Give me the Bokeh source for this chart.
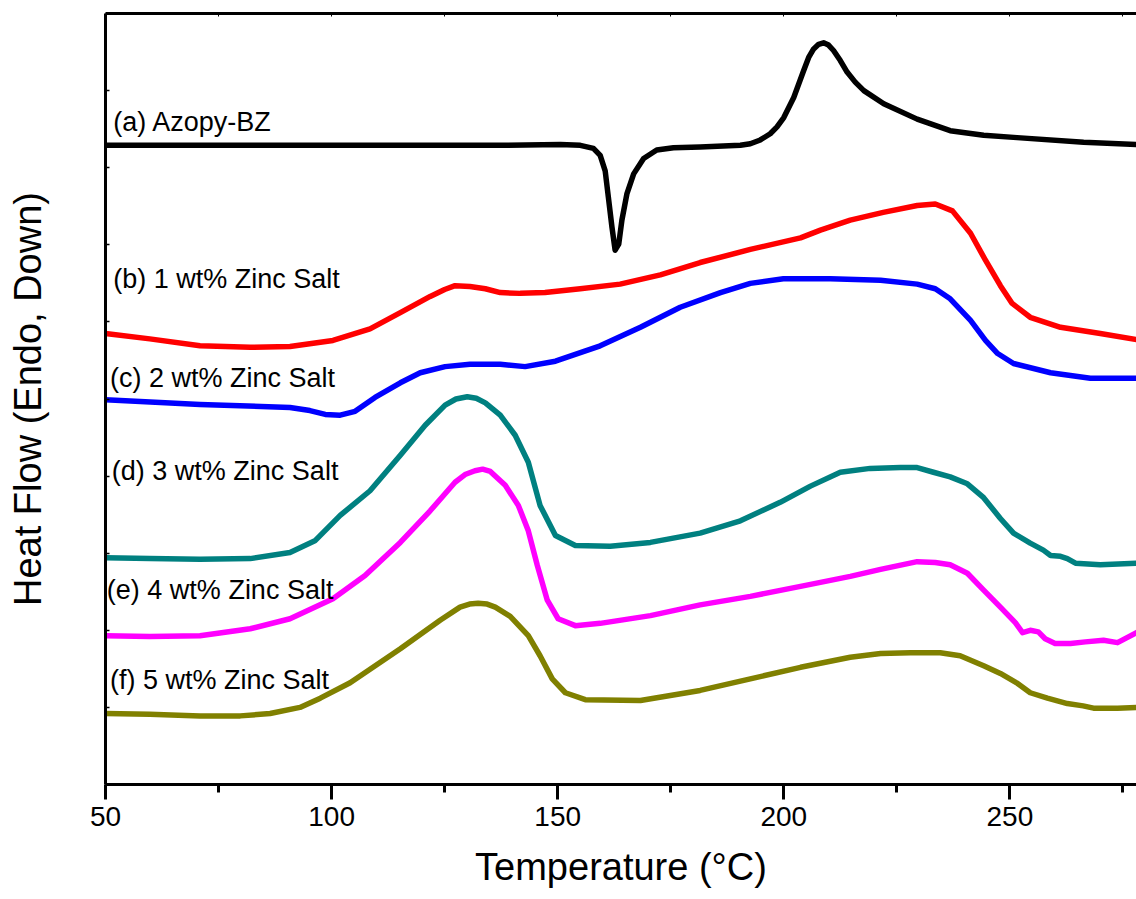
from bokeh.plotting import figure
from bokeh.models import Range1d, FixedTicker, LinearAxis, Label, CustomJSTickFormatter
from bokeh.embed import file_html
from bokeh.resources import INLINE

# ---- data (Temperature in degC, heat flow in arbitrary stacked units) ----
temp_a = [50, 93, 137.3, 150.6, 155.0, 157.9, 159.4, 160.5, 161.2, 162.0, 162.7, 163.5, 164.2,
          165.3, 166.8, 169.0, 171.9, 175.6, 181.5, 190.4, 192.6, 194.8, 197.0, 198.5, 200.0,
          202.2, 204.4, 205.5, 206.6, 207.7, 208.8, 209.9, 211.0, 212.5, 214.0, 215.8, 217.7,
          222.1, 229.5, 236.8, 244.2, 251.6, 266.3, 278.0]
flow_a = [82.9, 82.9, 82.9, 83.0, 82.9, 82.5, 81.6, 79.6, 76.2, 72.3, 69.3, 70.1, 73.2,
          76.6, 79.2, 81.2, 82.3, 82.6, 82.7, 82.9, 83.1, 83.6, 84.4, 85.3, 86.5,
          89.1, 92.6, 94.3, 95.4, 96.0, 96.2, 95.9, 95.2, 93.9, 92.4, 91.1, 90.0,
          88.3, 86.3, 84.8, 84.2, 83.9, 83.3, 83.0]

temp_b = [50, 59.8, 70.9, 82, 90.8, 100.3, 108.5, 115.2, 121.8, 125.0, 127.3, 130.6, 134, 137.3,
          141.7, 147.2, 155, 163.8, 172.7, 181.5, 192.6, 203.7, 208.1, 214.7, 222, 229.5,
          233.5, 237.3, 241.3, 244.6, 247.9, 250.5, 254.5, 261.2, 270, 278]
flow_b = [58.5, 57.8, 56.9, 56.7, 56.8, 57.6, 59.1, 61.2, 63.3, 64.2, 64.7, 64.6, 64.3, 63.8,
          63.7, 63.8, 64.3, 64.9, 66.1, 67.7, 69.4, 70.9, 71.9, 73.2, 74.2, 75.1,
          75.3, 74.4, 71.5, 68.0, 64.7, 62.4, 60.6, 59.3, 58.5, 57.7]

temp_c = [50, 70.9, 90.8, 95.2, 98.6, 101.9, 105.2, 109.6, 115.2, 119.6, 125.1, 130.6, 137.3,
          142.8, 149.5, 159.4, 168.3, 177.1, 186, 192.6, 199.9, 210.3, 221.4, 229.5, 233.5,
          236.8, 241.3, 244.6, 247.3, 250.8, 259, 267.8, 278]
flow_c = [49.9, 49.3, 48.9, 48.5, 48.0, 47.9, 48.4, 50.2, 52.1, 53.4, 54.2, 54.5, 54.5,
          54.2, 54.9, 56.9, 59.3, 61.9, 63.8, 65.0, 65.6, 65.6, 65.4, 64.9, 64.3,
          63.0, 60.2, 57.6, 55.9, 54.6, 53.4, 52.7, 52.7]

temp_d = [50, 59.8, 70.9, 82, 90.8, 96.3, 101.9, 108.5, 115.2, 120.7, 125.1, 127.5, 130, 132,
          134, 137.3, 140.6, 143.5, 146.1, 149.5, 153.9, 161.6, 170.5, 181.5, 190.4, 199.2,
          205.9, 212.5, 219.1, 225.8, 229.5, 233.1, 236.8, 240.6, 244.2, 247.9, 250.8, 254.5,
          257.4, 259, 261.2, 262.7, 264.5, 270, 278]
flow_d = [29.4, 29.3, 29.2, 29.3, 30.1, 31.6, 34.9, 38.1, 42.7, 46.6, 49.2, 50.0, 50.3, 50.1,
          49.5, 47.9, 45.3, 41.8, 36.2, 32.3, 31.0, 30.9, 31.4, 32.6, 34.2, 36.6,
          38.7, 40.5, 41.0, 41.1, 41.1, 40.5, 39.9, 39.0, 37.2, 34.5, 32.6, 31.3,
          30.4, 29.7, 29.6, 29.3, 28.7, 28.5, 28.7]

temp_e = [50, 59.8, 70.9, 82, 90.8, 100.3, 107.4, 115.2, 121.8, 127.3, 129.5, 131.7, 133.4,
          135.1, 138.4, 141.3, 143.5, 145.5, 147.7, 150.1, 153.9, 159.4, 170.5, 181.5, 192.6,
          203.7, 214.7, 221.4, 229.5, 233.5, 236.8, 240.6, 244.2, 247.9, 251.2, 252.8, 254.5,
          256.3, 257.8, 260, 263.4, 266.7, 270.7, 273.8, 278]
flow_e = [19.3, 19.2, 19.3, 20.2, 21.5, 24.1, 27.1, 31.4, 35.5, 39.2, 40.2, 40.7, 40.9,
          40.6, 38.8, 36.2, 32.9, 28.4, 23.9, 21.5, 20.6, 20.9, 21.9, 23.3, 24.4,
          25.7, 27.0, 27.9, 28.9, 28.8, 28.5, 27.4, 25.2, 23.0, 21.0, 19.7, 20.0,
          19.8, 18.9, 18.3, 18.3, 18.5, 18.7, 18.4, 19.7]

temp_f = [50, 59.8, 70.9, 79.8, 86.4, 93, 97.5, 104.1, 115.2, 124, 128.4, 130.5, 132.4, 134.4,
          136.2, 139.5, 143.5, 146.1, 148.8, 151.7, 156.1, 168.3, 181.5, 192.6, 203.7, 214.7,
          221.4, 228, 234.6, 239, 244.2, 247.9, 251.7, 254.5, 258.3, 262.7, 266.2, 268.5,
          273.8, 278]
flow_f = [9.2, 9.1, 8.9, 8.9, 9.2, 10.0, 11.2, 13.2, 17.6, 21.3, 23.0, 23.4, 23.5, 23.4,
          23.0, 21.8, 19.3, 16.7, 13.7, 11.9, 11.0, 10.9, 12.2, 13.7, 15.2, 16.5,
          17.0, 17.1, 17.1, 16.7, 15.4, 14.4, 13.1, 11.9, 11.2, 10.5, 10.2, 9.9,
          9.9, 10.0]

series_labels = ["(a) Azopy-BZ", "(b) 1 wt% Zinc Salt", "(c) 2 wt% Zinc Salt",
                 "(d) 3 wt% Zinc Salt", "(e) 4 wt% Zinc Salt", "(f) 5 wt% Zinc Salt"]
series_colors = ["#000000", "#FF0000", "#0000FF", "#008080", "#FF00FF", "#808000"]
x_ticks = [50, 100, 150, 200, 250]
x_minor = [75, 125, 175, 225, 275]
y_ticks = [0, 10, 20, 30, 40, 50, 60, 70, 80, 90]

FONT = "Liberation Sans"

p = figure(width=1136, height=899, output_backend="svg", toolbar_location=None,
           x_range=Range1d(50, 278), y_range=Range1d(0, 100),
           min_border_left=105, min_border_right=0, min_border_top=13, min_border_bottom=115,
           x_axis_label="Temperature (°C)", y_axis_label="Heat Flow (Endo, Down)")
p.grid.visible = False
p.outline_line_color = None
p.background_fill_color = "white"
p.border_fill_color = "white"

blank = CustomJSTickFormatter(code="return ''")

# x axis
xa = p.xaxis[0]
xa.ticker = FixedTicker(ticks=x_ticks, minor_ticks=x_minor)
xa.axis_line_width = 3
xa.major_tick_line_width = 3
xa.minor_tick_line_width = 3
xa.major_tick_out = 15
xa.major_tick_in = 0
xa.minor_tick_out = 8
xa.minor_tick_in = 0
xa.major_label_text_font = FONT
xa.major_label_text_font_size = "28px"
xa.major_label_text_color = "black"
xa.major_label_standoff = 7
xa.axis_label_text_font = FONT
xa.axis_label_text_font_size = "38px"
xa.axis_label_text_font_style = "normal"
xa.axis_label_text_color = "black"
xa.axis_label_standoff = 17

# y axis (ticks only, no numbers)
ya = p.yaxis[0]
ya.ticker = FixedTicker(ticks=y_ticks, minor_ticks=[])
ya.formatter = blank
ya.axis_line_width = 3
ya.major_tick_line_width = 1.5
ya.major_tick_in = 4
ya.major_tick_out = 0
ya.minor_tick_line_color = None
ya.major_label_standoff = 0
ya.axis_label_text_font = FONT
ya.axis_label_text_font_size = "38px"
ya.axis_label_text_font_style = "normal"
ya.axis_label_text_color = "black"
ya.axis_label_standoff = 57

# top frame line
top = LinearAxis(ticker=FixedTicker(ticks=x_ticks + x_minor, minor_ticks=[]),
                 formatter=blank, axis_line_width=3, major_tick_in=3, major_tick_out=0,
                 major_tick_line_width=1, minor_tick_line_color=None,
                 major_label_standoff=0)
p.add_layout(top, "above")

series = [(temp_a, flow_a), (temp_b, flow_b), (temp_c, flow_c),
          (temp_d, flow_d), (temp_e, flow_e), (temp_f, flow_f)]
for (t, f), c in zip(series, series_colors):
    p.line(t, f, line_color=c, line_width=5.5, line_join="round", line_cap="round")

label_pos = [(51.7, 85.9), (51.7, 65.6), (51.0, 52.7), (51.4, 40.7), (50.3, 25.2), (51.0, 13.6)]
for txt, (lx, ly) in zip(series_labels, label_pos):
    p.add_layout(Label(x=lx, y=ly, text=txt, text_font=FONT, text_font_size="27px",
                       text_color="black", text_baseline="middle", text_align="left"))

open("out.html", "w").write(file_html(p, INLINE))
